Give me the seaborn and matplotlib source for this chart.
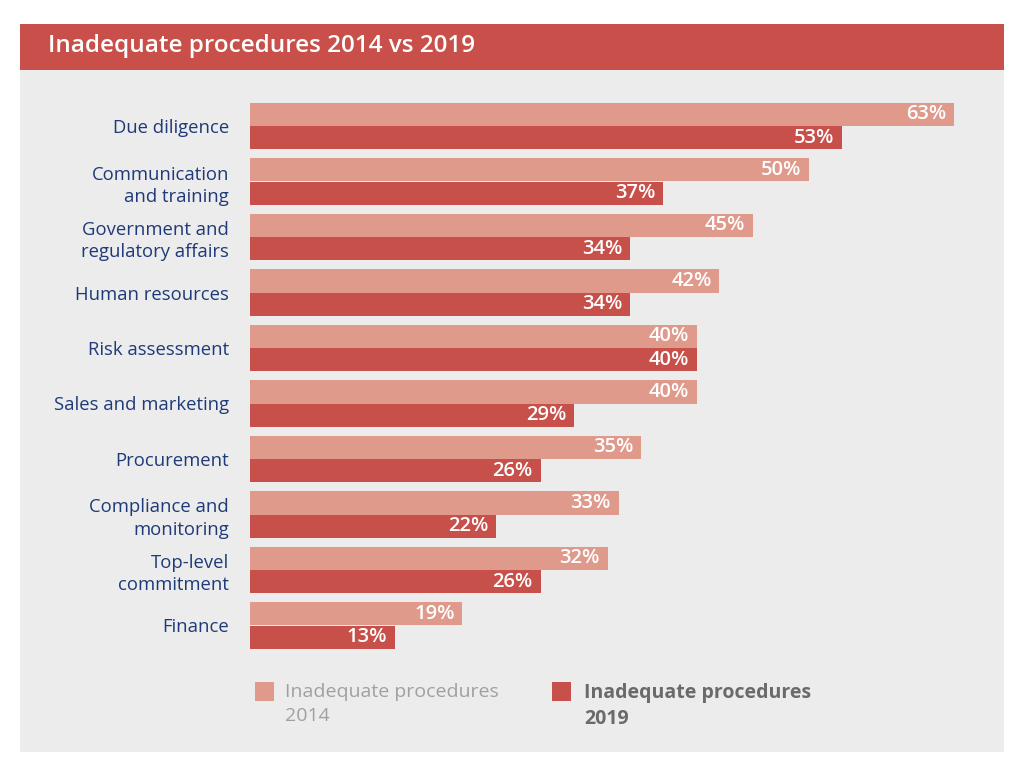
import pandas as pd
import matplotlib.pyplot as plt
import seaborn as sns
from matplotlib.patches import Rectangle

categories = ["Due diligence", "Communication\nand training", "Government and\nregulatory affairs",
              "Human resources", "Risk assessment", "Sales and marketing", "Procurement",
              "Compliance and\nmonitoring", "Top-level\ncommitment", "Finance"]
values_2014 = [63, 50, 45, 42, 40, 40, 35, 33, 32, 19]
values_2019 = [53, 37, 34, 34, 40, 29, 26, 22, 26, 13]
years = ["2014", "2019"]
legend_labels = ["Inadequate procedures\n2014", "Inadequate procedures\n2019"]
title = "Inadequate procedures 2014 vs 2019"

colors = {"2014": "#e09a8c", "2019": "#c8504a"}
panel_col = "#ececec"

df = pd.DataFrame({
    "category": categories * 2,
    "value": values_2014 + values_2019,
    "year": [years[0]] * len(categories) + [years[1]] * len(categories),
})

sns.set_style("white")
plt.rcParams['font.family'] = ['Open Sans', 'DejaVu Sans']

W, H = 1024, 770
fig = plt.figure(figsize=(W / 100, H / 100), dpi=100)
fig.patch.set_facecolor("white")

# grey panel and red title banner (drawn behind the axes)
fig.patches.append(Rectangle((20 / W, 1 - 752 / H), 984 / W, 728 / H,
                             transform=fig.transFigure, facecolor=panel_col, edgecolor="none", zorder=-2))
fig.patches.append(Rectangle((20 / W, 1 - 70 / H), 984 / W, 46 / H,
                             transform=fig.transFigure, facecolor="#c9504a", edgecolor="none", zorder=-1))
fig.text(48 / W, 1 - 46 / H, title, color="white", fontsize=17.5, fontweight="semibold",
         va="center", ha="left")

ax = fig.add_axes([250 / W, 1 - 653.25 / H, 754 / W, 555 / H])
ax.set_facecolor("none")
sns.barplot(data=df, y="category", x="value", hue="year", hue_order=years,
            palette=colors, width=0.83, orient="h", ax=ax, legend=False,
            saturation=1, errorbar=None, linewidth=0)

ax.set_xlim(0, 754 / (704 / 63))
ax.set_ylim(9.5, -0.5)
for s in ax.spines.values():
    s.set_visible(False)
ax.set_xticks([])
ax.set_xlabel("")
ax.set_ylabel("")
ax.tick_params(axis="y", length=0, pad=15)
for lab in ax.get_yticklabels():
    lab.set_color("#1e3a78")
    lab.set_fontsize(13.3)
    lab.set_linespacing(1.32)

for cont in ax.containers:
    for bar in cont:
        v = bar.get_width()
        ax.text(v - 0.7, bar.get_y() + bar.get_height() / 2, f"{v:.0f}%",
                color="white", fontsize=14.5, fontweight="semibold",
                ha="right", va="center")

# legend
lx = [255, 552]
for i, yr in enumerate(years):
    fig.patches.append(Rectangle((lx[i] / W, 1 - 701 / H), 19 / W, 19 / H,
                                 transform=fig.transFigure, facecolor=colors[yr],
                                 edgecolor="none", zorder=2))
fig.text(285 / W, 1 - 683 / H, legend_labels[0], color="#a0a0a0", fontsize=14,
         va="top", ha="left", linespacing=1.42)
fig.text(584 / W, 1 - 683 / H, legend_labels[1], color="#6a6a6a", fontsize=14,
         fontweight="bold", va="top", ha="left", linespacing=1.42)

fig.savefig("out.png", dpi=100)
